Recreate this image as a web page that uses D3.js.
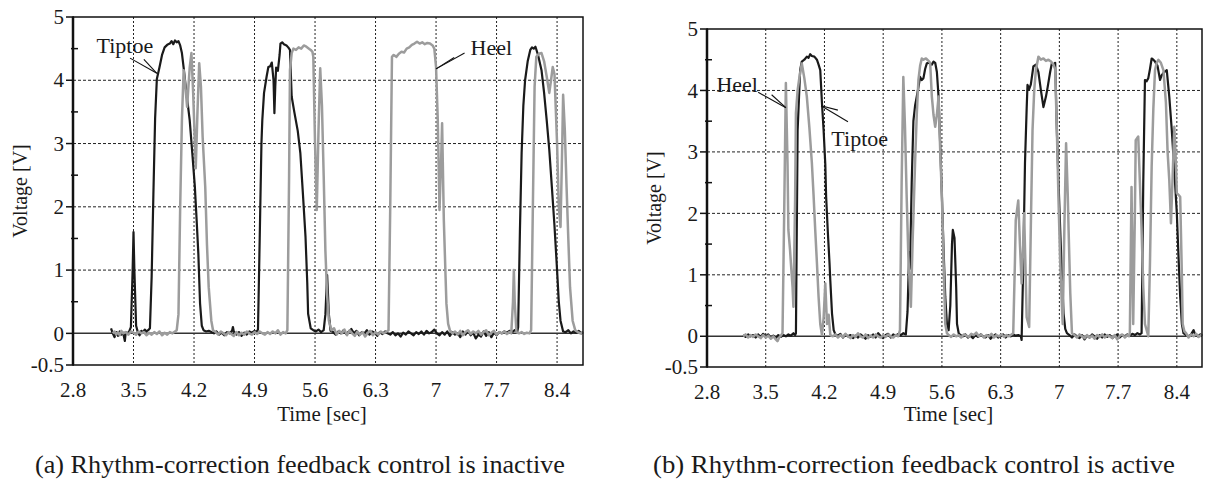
<!DOCTYPE html>
<html>
<head>
<meta charset="utf-8">
<script src="https://cdn.jsdelivr.net/npm/d3@7"></script>
<style>
  body { margin: 0; background: #fff; }
  svg { display: block; }
  text { font-family: "Liberation Serif", "Times New Roman", serif; fill: #1a1a1a; }
</style>
</head>
<body>
<svg id="chart"></svg>
<script>
// tick labels
const timeTicks = [2.8, 3.5, 4.2, 4.9, 5.6, 6.3, 7, 7.7, 8.4];
const voltTicks = [-0.5, 0, 1, 2, 3, 4, 5];
const voltMinor = [0.5, 1.5, 2.5, 3.5, 4.5];
const captions = [
  "(a) Rhythm-correction feedback control is inactive",
  "(b) Rhythm-correction feedback control is active"
];

// (a) feedback inactive, [time sec, voltage V]
const tiptoeInactive = [
  [3.24,0.08],[3.26,0.0],[3.28,-0.06],[3.30,0.02],[3.32,-0.04],[3.34,0.03],[3.36,-0.02],[3.38,0.01],[3.40,-0.12],[3.41,0.02],
  [3.43,0.0],[3.45,0.03],[3.47,0.1],[3.49,1.0],[3.50,1.6],[3.51,1.0],[3.53,0.12],[3.55,0.02],[3.57,-0.03],[3.59,0.04],
  [3.61,0.02],[3.63,0.06],[3.65,0.03],[3.67,0.05],[3.69,0.08],[3.71,0.9],[3.73,2.2],[3.75,3.4],[3.77,4.02],[3.80,4.2],
  [3.83,4.4],[3.86,4.52],[3.89,4.56],[3.92,4.58],[3.94,4.62],[3.96,4.57],[3.98,4.63],[4.00,4.6],[4.02,4.62],[4.04,4.55],
  [4.06,4.43],[4.08,4.2],[4.10,3.95],[4.13,3.6],[4.15,3.37],[4.18,2.85],[4.21,2.31],[4.23,1.8],[4.25,1.26],[4.27,0.47],
  [4.29,0.12],[4.31,0.05],[4.34,0.03],[4.37,0.04],[4.40,0.02],[4.43,0.0],[4.46,0.03],[4.49,-0.02],[4.52,0.01],[4.55,-0.03],
  [4.58,0.02],[4.61,0.0],[4.64,0.04],[4.65,0.1],[4.66,0.03],[4.69,-0.02],[4.72,0.02],[4.75,-0.04],[4.78,0.01],[4.81,-0.02],
  [4.84,0.03],[4.87,0.01],[4.90,0.04],[4.92,0.02],[4.94,0.06],[4.96,1.5],[4.98,3.0],[4.99,3.37],[5.01,3.8],[5.04,4.06],
  [5.06,4.21],[5.08,4.22],[5.10,4.28],[5.12,4.0],[5.13,3.48],[5.14,3.9],[5.15,4.2],[5.17,4.15],[5.19,4.4],[5.20,4.58],
  [5.22,4.6],[5.24,4.57],[5.27,4.55],[5.29,4.52],[5.31,4.48],[5.33,3.74],[5.36,3.5],[5.40,3.2],[5.43,2.85],[5.46,2.2],
  [5.49,1.52],[5.51,0.8],[5.52,0.31],[5.55,0.08],[5.58,0.05],[5.61,0.03],[5.64,0.06],[5.67,0.02],[5.70,0.05],[5.72,0.3],
  [5.74,0.92],[5.76,0.3],[5.78,0.04],[5.81,0.02],[5.84,-0.02],[5.87,0.03],[5.90,0.0],[5.93,0.05],[5.96,-0.01],[5.99,0.03],
  [6.02,0.07],[6.05,0.0],[6.08,0.04],[6.11,-0.03],[6.14,0.02],[6.17,0.0],[6.20,0.05],[6.23,-0.02],[6.26,0.03],[6.29,0.01],
  [6.32,-0.04],[6.35,0.02],[6.38,-0.01],[6.41,0.03],[6.44,0.0],[6.47,-0.02],[6.50,0.02],[6.53,-0.03],[6.56,0.0],[6.59,-0.05],
  [6.62,0.01],[6.65,-0.02],[6.68,0.03],[6.71,0.0],[6.74,-0.03],[6.77,0.02],[6.80,-0.01],[6.83,0.03],[6.86,-0.02],[6.89,0.04],
  [6.92,0.0],[6.95,0.02],[6.98,0.06],[7.01,0.0],[7.04,-0.03],[7.07,0.02],[7.10,-0.02],[7.13,0.03],[7.16,-0.04],[7.19,0.02],
  [7.22,-0.02],[7.25,0.0],[7.28,-0.06],[7.31,0.03],[7.34,-0.02],[7.37,0.04],[7.40,-0.03],[7.43,0.01],[7.46,-0.08],[7.49,-0.02],
  [7.52,-0.05],[7.55,0.03],[7.58,-0.04],[7.61,0.02],[7.64,-0.06],[7.67,0.01],[7.70,-0.03],[7.73,0.02],[7.76,0.0],[7.79,0.03],
  [7.82,0.01],[7.85,0.04],[7.88,0.02],[7.91,0.05],[7.94,0.03],[7.95,0.1],[7.97,1.6],[7.99,2.85],[8.01,3.6],[8.03,4.0],
  [8.06,4.3],[8.09,4.48],[8.11,4.52],[8.13,4.5],[8.15,4.53],[8.18,4.4],[8.22,4.16],[8.25,3.8],[8.28,3.37],[8.31,2.9],
  [8.34,2.31],[8.37,1.7],[8.40,1.0],[8.42,0.5],[8.44,0.2],[8.47,0.03],[8.50,0.02],[8.53,0.05],[8.56,0.0],[8.59,0.03],
  [8.62,0.01],[8.65,0.04],[8.68,0.0],[8.70,0.02]
];
const heelInactive = [
  [3.26,0.0],[3.28,0.03],[3.30,-0.02],[3.32,0.02],[3.34,-0.03],[3.36,0.04],[3.38,0.0],[3.41,0.02],[3.44,-0.02],[3.47,0.03],
  [3.50,0.01],[3.53,-0.02],[3.56,0.03],[3.59,0.0],[3.62,0.02],[3.65,-0.03],[3.68,0.01],[3.71,-0.02],[3.74,0.02],[3.77,-0.01],
  [3.80,0.03],[3.83,-0.03],[3.86,0.01],[3.89,-0.02],[3.92,0.02],[3.95,0.0],[3.98,0.03],[4.00,0.05],[4.02,0.3],[4.04,2.0],
  [4.06,3.37],[4.08,4.16],[4.10,3.9],[4.12,3.58],[4.15,4.2],[4.17,4.43],[4.19,3.8],[4.22,2.61],[4.24,3.5],[4.26,4.27],
  [4.28,3.9],[4.30,3.1],[4.33,2.31],[4.35,1.4],[4.37,0.73],[4.40,0.2],[4.42,0.05],[4.45,0.02],[4.48,-0.02],[4.51,0.03],
  [4.54,0.0],[4.57,-0.03],[4.60,0.02],[4.63,-0.01],[4.66,-0.04],[4.69,0.02],[4.72,-0.03],[4.75,0.01],[4.78,-0.02],[4.81,0.03],
  [4.84,0.0],[4.87,-0.02],[4.90,0.02],[4.93,-0.01],[4.96,0.03],[4.99,0.0],[5.02,-0.02],[5.05,0.02],[5.08,-0.01],[5.11,0.03],
  [5.14,0.0],[5.17,0.05],[5.20,-0.02],[5.23,0.02],[5.26,0.0],[5.28,0.05],[5.30,2.5],[5.31,4.16],[5.33,4.43],[5.35,4.5],
  [5.38,4.48],[5.41,4.52],[5.44,4.5],[5.47,4.55],[5.50,4.53],[5.53,4.5],[5.55,4.48],[5.57,4.45],[5.58,4.37],[5.60,3.0],
  [5.62,1.95],[5.64,3.2],[5.66,4.19],[5.68,3.6],[5.70,2.5],[5.72,1.3],[5.74,0.6],[5.76,0.2],[5.79,0.05],[5.82,0.08],
  [5.85,-0.02],[5.88,0.04],[5.91,0.0],[5.94,0.06],[5.97,-0.03],[6.00,0.05],[6.03,0.0],[6.06,-0.04],[6.09,0.03],[6.12,-0.02],
  [6.15,0.02],[6.18,-0.05],[6.21,0.01],[6.24,0.04],[6.27,-0.03],[6.30,0.02],[6.33,-0.02],[6.36,0.03],[6.39,0.0],[6.42,0.02],
  [6.45,0.05],[6.47,2.0],[6.49,4.37],[6.51,4.4],[6.54,4.37],[6.57,4.42],[6.60,4.45],[6.63,4.44],[6.66,4.5],[6.69,4.52],
  [6.72,4.56],[6.75,4.58],[6.78,4.61],[6.81,4.58],[6.84,4.6],[6.87,4.57],[6.90,4.59],[6.93,4.58],[6.96,4.55],[6.98,4.5],
  [7.00,4.21],[7.02,3.37],[7.04,1.95],[7.06,2.8],[7.07,3.32],[7.09,1.79],[7.11,0.9],[7.12,0.47],[7.14,0.15],[7.16,0.05],
  [7.19,0.0],[7.22,0.03],[7.25,-0.02],[7.28,0.04],[7.31,-0.03],[7.34,0.02],[7.37,0.05],[7.40,-0.01],[7.43,0.03],[7.46,0.0],
  [7.49,0.04],[7.52,-0.02],[7.55,0.02],[7.58,0.05],[7.61,-0.03],[7.64,0.01],[7.67,0.04],[7.70,-0.02],[7.73,0.02],[7.76,0.0],
  [7.79,0.03],[7.82,-0.01],[7.85,0.02],[7.87,0.0],[7.89,0.5],[7.90,1.0],[7.91,0.5],[7.93,0.02],[7.96,0.0],[7.99,0.02],
  [8.02,-0.01],[8.05,0.01],[8.08,0.0],[8.10,0.05],[8.12,2.0],[8.14,3.9],[8.16,4.37],[8.19,4.42],[8.22,4.43],[8.25,4.3],
  [8.28,4.06],[8.31,3.8],[8.33,4.0],[8.35,4.21],[8.37,4.1],[8.40,3.0],[8.42,2.0],[8.44,1.68],[8.46,3.0],[8.47,3.77],
  [8.49,3.2],[8.51,2.31],[8.53,1.5],[8.55,0.73],[8.58,0.2],[8.61,0.05],[8.64,0.02],[8.67,0.0],[8.70,0.02]
];

// (b) feedback active
const tiptoeActive = [
  [3.23,0.02],[3.26,-0.01],[3.29,0.03],[3.32,0.0],[3.35,0.02],[3.38,-0.02],[3.41,0.03],[3.44,-0.01],[3.47,0.04],[3.50,0.0],
  [3.53,0.03],[3.56,-0.02],[3.59,0.01],[3.62,-0.03],[3.65,0.02],[3.68,-0.01],[3.71,0.02],[3.74,0.0],[3.77,0.03],[3.80,0.01],
  [3.83,0.05],[3.85,0.02],[3.86,0.05],[3.88,3.35],[3.91,4.33],[3.93,4.47],[3.96,4.5],[3.99,4.55],[4.01,4.53],[4.03,4.59],
  [4.05,4.56],[4.08,4.55],[4.11,4.5],[4.13,4.42],[4.15,4.33],[4.17,3.8],[4.19,3.35],[4.21,2.8],[4.22,2.27],[4.24,1.7],
  [4.25,1.45],[4.26,1.2],[4.27,0.9],[4.29,0.37],[4.31,0.1],[4.33,0.03],[4.36,0.01],[4.39,0.04],[4.42,-0.02],[4.45,0.03],
  [4.48,0.0],[4.51,0.02],[4.54,-0.03],[4.57,0.01],[4.60,-0.02],[4.63,0.03],[4.66,0.0],[4.69,-0.04],[4.72,0.02],[4.75,-0.01],
  [4.78,0.03],[4.81,-0.02],[4.84,0.05],[4.87,0.0],[4.90,-0.03],[4.93,0.02],[4.96,0.04],[4.99,-0.02],[5.02,0.03],[5.05,0.01],
  [5.08,0.04],[5.11,0.02],[5.14,0.05],[5.17,0.03],[5.19,0.4],[5.21,1.37],[5.22,1.1],[5.24,2.5],[5.26,3.5],[5.28,3.75],
  [5.30,3.9],[5.32,4.05],[5.34,4.22],[5.36,4.17],[5.38,4.2],[5.40,4.35],[5.42,4.44],[5.45,4.45],[5.48,4.42],[5.50,4.47],
  [5.52,4.45],[5.54,4.3],[5.56,3.9],[5.58,3.1],[5.60,2.27],[5.62,1.4],[5.64,0.64],[5.66,0.2],[5.68,0.1],[5.70,0.5],
  [5.72,1.5],[5.73,1.73],[5.75,1.6],[5.77,0.8],[5.78,0.2],[5.80,0.05],[5.82,0.02],[5.85,0.0],[5.88,0.03],[5.91,-0.02],
  [5.94,0.01],[5.97,-0.03],[6.00,0.02],[6.03,-0.01],[6.06,0.03],[6.09,0.0],[6.12,-0.02],[6.15,0.02],[6.18,-0.04],[6.21,0.0],
  [6.24,0.03],[6.27,-0.02],[6.30,0.01],[6.33,0.03],[6.36,-0.02],[6.39,0.02],[6.42,0.0],[6.45,0.03],[6.48,0.01],[6.51,0.02],
  [6.54,0.0],[6.55,-0.06],[6.57,1.2],[6.59,2.81],[6.61,3.7],[6.62,4.09],[6.64,4.02],[6.66,4.1],[6.69,4.39],[6.72,4.42],
  [6.75,4.3],[6.78,4.0],[6.81,3.73],[6.84,3.9],[6.86,4.05],[6.89,4.3],[6.91,4.44],[6.93,4.42],[6.95,4.45],[6.97,3.35],
  [6.99,2.5],[7.01,1.73],[7.03,1.0],[7.05,0.37],[7.07,0.12],[7.09,0.05],[7.12,0.02],[7.15,-0.02],[7.18,0.03],[7.21,0.0],
  [7.24,-0.03],[7.27,0.02],[7.30,-0.05],[7.33,0.01],[7.36,-0.02],[7.39,0.03],[7.42,0.0],[7.45,-0.04],[7.48,0.02],[7.51,-0.02],
  [7.54,0.03],[7.57,-0.01],[7.60,0.02],[7.63,-0.03],[7.66,0.01],[7.69,0.03],[7.72,-0.02],[7.75,0.02],[7.78,0.0],[7.81,0.03],
  [7.84,0.01],[7.87,0.04],[7.90,0.02],[7.93,0.05],[7.96,0.03],[7.98,0.05],[8.00,2.5],[8.02,4.17],[8.04,4.15],[8.06,4.2],
  [8.08,4.35],[8.10,4.52],[8.12,4.5],[8.14,4.47],[8.17,4.4],[8.20,4.17],[8.22,4.25],[8.25,4.3],[8.28,4.33],[8.31,3.9],
  [8.34,3.35],[8.37,2.7],[8.40,2.0],[8.42,1.3],[8.44,0.64],[8.46,0.2],[8.48,0.05],[8.51,0.02],[8.54,0.0],[8.57,0.03],
  [8.60,0.1],[8.62,0.02],[8.65,0.0],[8.68,0.03],[8.70,0.01]
];
const heelActive = [
  [3.23,0.0],[3.26,0.03],[3.29,-0.02],[3.32,0.02],[3.35,-0.01],[3.38,0.03],[3.41,0.0],[3.44,-0.03],[3.47,0.02],[3.50,-0.02],
  [3.53,0.01],[3.56,-0.04],[3.59,0.0],[3.62,-0.05],[3.64,-0.08],[3.66,-0.02],[3.68,0.01],[3.70,0.05],[3.72,2.0],[3.74,4.12],
  [3.76,2.8],[3.77,1.73],[3.79,1.4],[3.80,1.19],[3.82,0.8],[3.83,0.48],[3.85,2.2],[3.86,3.63],[3.88,4.0],[3.90,4.2],
  [3.93,4.44],[3.96,4.2],[3.99,3.9],[4.02,3.4],[4.05,2.82],[4.07,2.3],[4.09,1.73],[4.11,1.2],[4.13,0.64],[4.15,0.2],
  [4.17,0.02],[4.19,0.3],[4.21,0.86],[4.23,0.2],[4.25,0.35],[4.27,0.02],[4.30,0.0],[4.33,0.03],[4.36,-0.02],[4.39,0.02],
  [4.42,-0.01],[4.45,0.04],[4.48,0.0],[4.51,-0.03],[4.54,0.02],[4.57,-0.01],[4.60,0.05],[4.63,0.0],[4.66,-0.02],[4.69,0.03],
  [4.72,-0.03],[4.75,0.01],[4.78,-0.02],[4.81,0.03],[4.84,0.0],[4.87,-0.02],[4.90,0.02],[4.93,-0.01],[4.96,0.03],[4.99,0.0],
  [5.02,-0.02],[5.05,0.02],[5.08,0.0],[5.10,0.1],[5.12,2.5],[5.14,4.22],[5.16,3.4],[5.18,2.27],[5.20,1.3],[5.23,0.48],
  [5.25,1.5],[5.28,2.82],[5.30,3.6],[5.32,4.17],[5.34,4.4],[5.36,4.52],[5.38,4.5],[5.41,4.52],[5.44,4.48],[5.46,4.45],
  [5.48,3.9],[5.50,3.6],[5.52,3.41],[5.54,3.6],[5.56,3.9],[5.58,3.0],[5.60,2.27],[5.62,1.2],[5.64,0.2],[5.66,0.05],
  [5.68,0.02],[5.71,-0.01],[5.74,0.03],[5.77,0.0],[5.80,0.02],[5.83,-0.02],[5.86,0.03],[5.89,0.01],[5.92,-0.01],[5.95,0.04],
  [5.98,0.02],[6.01,0.06],[6.04,0.0],[6.07,0.03],[6.10,-0.02],[6.13,0.02],[6.16,0.0],[6.19,0.04],[6.22,-0.02],[6.25,0.02],
  [6.28,0.0],[6.31,0.03],[6.34,-0.01],[6.37,0.02],[6.40,0.0],[6.43,0.03],[6.45,0.05],[6.47,1.2],[6.48,1.89],[6.51,2.21],
  [6.53,1.5],[6.55,0.86],[6.57,1.5],[6.58,2.0],[6.60,0.9],[6.61,0.31],[6.64,0.15],[6.66,1.8],[6.68,3.35],[6.70,4.0],
  [6.72,4.33],[6.75,4.55],[6.78,4.5],[6.81,4.52],[6.84,4.48],[6.87,4.5],[6.90,4.47],[6.93,4.42],[6.95,4.35],[6.97,3.35],
  [6.99,2.2],[7.01,1.19],[7.03,0.5],[7.04,0.2],[7.06,1.8],[7.08,3.14],[7.10,2.3],[7.11,1.73],[7.13,0.7],[7.15,0.05],
  [7.18,0.02],[7.21,-0.02],[7.24,0.03],[7.27,0.0],[7.30,-0.03],[7.33,0.02],[7.36,-0.02],[7.39,0.01],[7.42,-0.04],[7.45,0.02],
  [7.48,-0.01],[7.51,0.03],[7.54,-0.02],[7.57,0.02],[7.60,0.0],[7.63,-0.03],[7.66,0.02],[7.69,-0.05],[7.72,0.01],[7.75,0.03],
  [7.78,-0.02],[7.81,0.02],[7.83,0.0],[7.84,0.05],[7.86,2.43],[7.88,0.2],[7.90,2.0],[7.91,3.19],[7.94,3.25],[7.96,2.5],
  [7.98,1.73],[8.00,0.8],[8.02,0.2],[8.06,0.0],[8.08,1.2],[8.10,2.76],[8.12,3.7],[8.14,4.33],[8.16,4.45],[8.18,4.5],
  [8.21,4.45],[8.24,4.33],[8.27,3.8],[8.29,3.0],[8.31,2.54],[8.33,1.84],[8.35,2.6],[8.37,3.41],[8.39,2.8],[8.40,2.33],
  [8.42,2.3],[8.44,2.27],[8.46,1.0],[8.47,0.2],[8.49,0.08],[8.51,0.05],[8.54,-0.02],[8.57,0.03],[8.60,0.0],[8.63,0.04],
  [8.66,-0.01],[8.69,0.02],[8.70,0.0]
];

// annotation callouts, given in data units: label spot, arrow tip, two line ends
const notesInactive = [
  { label: "Tiptoe", at: [3.40, 4.55], tip: [3.77, 4.11], ends: [[3.46, 4.35], [3.62, 4.33]] },
  { label: "Heel", at: [7.64, 4.52], tip: [7.0, 4.18], ends: [[7.33, 4.43], [7.21, 4.36]] }
];
const notesActive = [
  { label: "Heel", at: [3.16, 4.1], tip: [3.74, 3.72], ends: [[3.41, 3.97], [3.57, 3.93]] },
  { label: "Tiptoe", at: [4.62, 3.22], tip: [4.16, 3.75], ends: [[4.48, 3.49], [4.36, 3.68]] }
];

var width = 1205, height = 482;
var svg = d3.select("#chart").attr("width", width).attr("height", height);

// plot boxes and caption spans (pixels)
var panels = [
  { box: { x0: 73, x1: 583, y0: 17, y1: 365 }, tip: tiptoeInactive, heel: heelInactive, notes: notesInactive,
    caption: captions[0], capX: 300, capW: 530 },
  { box: { x0: 707, x1: 1202, y0: 29, y1: 367 }, tip: tiptoeActive, heel: heelActive, notes: notesActive,
    caption: captions[1], capX: 914, capW: 522 }
];

panels.forEach(function (p) {
  var b = p.box;
  var x = d3.scaleLinear().domain([2.8, 8.7]).range([b.x0, b.x1]);
  var y = d3.scaleLinear().domain([-0.5, 5]).range([b.y1, b.y0]);
  var g = svg.append("g");

  // dotted grid
  g.selectAll(".vgrid").data(timeTicks.slice(1)).join("line")
    .attr("x1", d => x(d)).attr("x2", d => x(d))
    .attr("y1", b.y0).attr("y2", b.y1)
    .attr("stroke", "#222").attr("stroke-width", 1).attr("stroke-dasharray", "2,2");
  g.selectAll(".hgrid").data([1, 2, 3, 4]).join("line")
    .attr("x1", b.x0).attr("x2", b.x1)
    .attr("y1", d => y(d)).attr("y2", d => y(d))
    .attr("stroke", "#222").attr("stroke-width", 1).attr("stroke-dasharray", "3,2");

  // zero line
  g.append("line").attr("x1", b.x0).attr("x2", b.x1)
    .attr("y1", y(0)).attr("y2", y(0))
    .attr("stroke", "#333").attr("stroke-width", 1.5);

  var line = d3.line().x(d => x(d[0])).y(d => y(d[1]));
  g.append("path").datum(p.tip).attr("d", line)
    .attr("fill", "none").attr("stroke", "#1a1a1a").attr("stroke-width", 2.2).attr("stroke-linejoin", "round");
  g.append("path").datum(p.heel).attr("d", line)
    .attr("fill", "none").attr("stroke", "#9c9c9c").attr("stroke-width", 2.5).attr("stroke-linejoin", "round");

  // frame
  g.append("rect").attr("x", b.x0).attr("y", b.y0)
    .attr("width", b.x1 - b.x0).attr("height", b.y1 - b.y0)
    .attr("fill", "none").attr("stroke", "#111").attr("stroke-width", 1.5);
  g.append("line").attr("x1", b.x0).attr("x2", b.x0).attr("y1", b.y0).attr("y2", b.y1)
    .attr("stroke", "#111").attr("stroke-width", 2.5);

  // y ticks
  g.selectAll(".ymaj").data(voltTicks).join("line")
    .attr("x1", b.x0 - 7).attr("x2", b.x0 + 1)
    .attr("y1", d => y(d)).attr("y2", d => y(d))
    .attr("stroke", "#111").attr("stroke-width", 1.5);
  g.selectAll(".ymin").data(voltMinor).join("line")
    .attr("x1", b.x0 - 2).attr("x2", b.x0 + 5)
    .attr("y1", d => y(d)).attr("y2", d => y(d))
    .attr("stroke", "#111").attr("stroke-width", 1.5);
  g.selectAll(".ylab").data(voltTicks).join("text")
    .attr("x", b.x0 - 9).attr("y", d => y(d)).attr("dy", "0.34em")
    .attr("text-anchor", "end").attr("font-size", 21)
    .text(d => d);

  // x tick labels
  g.selectAll(".xlab").data(timeTicks).join("text")
    .attr("x", d => x(d)).attr("y", b.y1 + 32)
    .attr("text-anchor", "middle").attr("font-size", 21)
    .text(d => d);

  // axis titles
  g.append("text").attr("x", (b.x0 + b.x1) / 2 - 6).attr("y", 421)
    .attr("text-anchor", "middle").attr("font-size", 21).text("Time [sec]");
  g.append("text")
    .attr("transform", "translate(" + (b.x0 - 46) + "," + (b.y0 + b.y1) / 2 + ") rotate(-90)")
    .attr("text-anchor", "middle").attr("font-size", 20).text("Voltage [V]");

  // callouts
  p.notes.forEach(function (n) {
    n.ends.forEach(function (e) {
      g.append("line")
        .attr("x1", x(e[0])).attr("y1", y(e[1]))
        .attr("x2", x(n.tip[0])).attr("y2", y(n.tip[1]))
        .attr("stroke", "#111").attr("stroke-width", 1.1);
    });
    g.append("text").attr("x", x(n.at[0])).attr("y", y(n.at[1])).attr("dy", "0.35em")
      .attr("text-anchor", "middle").attr("font-size", 22).text(n.label);
  });

  // caption, stretched to the span it has in the figure
  svg.append("text").attr("x", p.capX).attr("y", 473)
    .attr("text-anchor", "middle").attr("font-size", 25)
    .attr("textLength", p.capW).attr("lengthAdjust", "spacingAndGlyphs")
    .text(p.caption);
});
</script>
</body>
</html>
